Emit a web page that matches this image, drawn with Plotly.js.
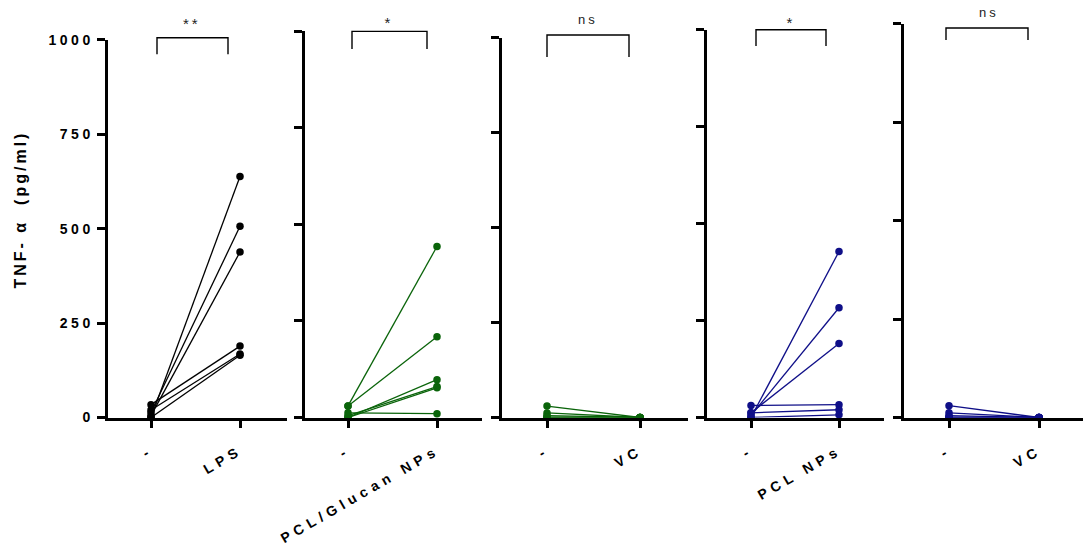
<!DOCTYPE html>
<html><head><meta charset="utf-8">
<script src="https://cdn.plot.ly/plotly-3.0.1.min.js"></script>
<style>
html,body{margin:0;padding:0;background:#fff;}
#chart{width:1083px;height:548px;}
.xtick text,.x2tick text,.x3tick text,.x4tick text,.x5tick text{letter-spacing:5px;}
.ytick text{letter-spacing:3.5px;}
.annotation text{letter-spacing:3px;}
</style></head><body><div id="chart"></div>
<script>
// ---- data ----
const categories = [["-", "LPS"], ["-", "PCL/Glucan NPs"], ["-", "VC"], ["-", "PCL NPs"], ["-", "VC"]];
const yTickVals = [0, 250, 500, 750, 1000];
const yTickText = ["0", "250", "500", "750", "1000"];
const yTitle = "TNF- \u03b1\u00a0\u00a0(pg/ml)";
const lpsPre = [0, 13, 5, 34, 20, 0];
const lpsPost = [638, 506, 438, 189, 168, 165];
const glucanPre = [30, 30, 0, 5, 0, 12];
const glucanPost = [443, 209, 98, 80, 77, 10];
const vc1Pre = [30, 12, 5, 0, 0, 0];
const vc1Post = [0, 0, 0, 0, 0, 0];
const pclPre = [0, 5, 12, 31, 12, 0];
const pclPost = [428, 283, 191, 33, 20, 7];
const vc2Pre = [30, 12, 5, 0, 0, 0];
const vc2Post = [0, 0, 0, 0, 0, 0];
const significance = ["**", "*", "ns", "*", "ns"];

const panels = [[lpsPre, lpsPost], [glucanPre, glucanPost], [vc1Pre, vc1Post], [pclPre, pclPost], [vc2Pre, vc2Post]];
const colors = ["#000000", "#0a640a", "#0a640a", "#0f0f88", "#0f0f88"];

// ---- layout geometry (pixels) ----
const W = 1083, H = 548, BOTTOM = 417.5;
const geom = [
  {x0: 107.5, x1: 287, c0: 151, c1: 240, top: 39.7},
  {x0: 304.7, x1: 481.7, c0: 348, c1: 437, top: 31.4},
  {x0: 501.7, x1: 688, c0: 547, c1: 640, top: 37.5},
  {x0: 706.7, x1: 884, c0: 751, c1: 839, top: 29.7},
  {x0: 904, x1: 1083, c0: 949, c1: 1039, top: 23.8}
];
const brackets = [
  {a: 157, b: 228, y: 37.7, leg: 54.2, ty: 24, tx: 192},
  {a: 352, b: 427, y: 31.4, leg: 49, ty: 23, tx: 389},
  {a: 547, b: 629, y: 35, leg: 57, ty: 19.3, tx: 588},
  {a: 756, b: 826, y: 29.7, leg: 46, ty: 22, tx: 791},
  {a: 946, b: 1028, y: 28, leg: 40, ty: 12.2, tx: 989}
];
const px = v => v / W, py = v => 1 - v / H;

const traces = [];
const layout = {
  width: W, height: H, margin: {l: 0, r: 0, t: 0, b: 0},
  paper_bgcolor: "#fff", plot_bgcolor: "#fff", showlegend: false,
  shapes: [], annotations: []
};
const tickFont = {family: "Liberation Sans, Arial, sans-serif", size: 14, weight: "bold", color: "#000"};

panels.forEach((p, i) => {
  const g = geom[i];
  const xs = i === 0 ? "" : String(i + 1);
  const unit = g.c1 - g.c0;
  const [pre, post] = p;
  pre.forEach((v, k) => {
    traces.push({
      x: [0, 1], y: [v, post[k]], xaxis: "x" + xs, yaxis: "y" + xs,
      type: "scatter", mode: "lines+markers", cliponaxis: false,
      line: {color: colors[i], width: 1.3},
      marker: {color: colors[i], size: 7.5},
      hoverinfo: "skip"
    });
  });
  layout["xaxis" + xs] = {
    domain: [px(g.x0), px(g.x1)], anchor: "y" + xs,
    range: [(g.x0 - g.c0) / unit, (g.x1 - g.c0) / unit],
    tickmode: "array", tickvals: [0, 1], ticktext: categories[i],
    ticks: "outside", ticklen: 7, tickwidth: 3, tickcolor: "#000",
    showline: true, linewidth: 3, linecolor: "#000",
    showgrid: false, zeroline: false, tickangle: -30,
    tickfont: tickFont, ticklabelstandoff: 10, fixedrange: true
  };
  layout["yaxis" + xs] = {
    domain: [py(BOTTOM), py(g.top)], anchor: "x" + xs,
    range: [0, 1000], tickmode: "array", tickvals: yTickVals, ticktext: yTickText,
    ticks: "outside", ticklen: 8, tickwidth: 3, tickcolor: "#000",
    showline: true, linewidth: 3, linecolor: "#000",
    showgrid: false, zeroline: false, showticklabels: i === 0,
    tickfont: tickFont, fixedrange: true
  };
  const b = brackets[i];
  layout.shapes.push({
    type: "path", xref: "paper", yref: "paper",
    path: `M ${px(b.a)},${py(b.leg)} L ${px(b.a)},${py(b.y)} L ${px(b.b)},${py(b.y)} L ${px(b.b)},${py(b.leg)}`,
    line: {color: "#000", width: 1.4}
  });
  layout.annotations.push({
    xref: "paper", yref: "paper", x: px(b.tx), y: py(b.ty),
    xanchor: "center", yanchor: "middle", showarrow: false,
    text: significance[i],
    font: {family: "Liberation Sans, Arial, sans-serif", size: significance[i] === "ns" ? 13 : 15, color: "#222"}
  });
});

layout.annotations.push({
  xref: "paper", yref: "paper", x: px(21), y: py(210),
  xanchor: "center", yanchor: "middle", showarrow: false, textangle: -90,
  text: yTitle,
  font: {family: "Liberation Sans, Arial, sans-serif", size: 16, weight: "bold", color: "#000"}
});

Plotly.newPlot("chart", traces, layout, {displayModeBar: false, staticPlot: true});
</script></body></html>
